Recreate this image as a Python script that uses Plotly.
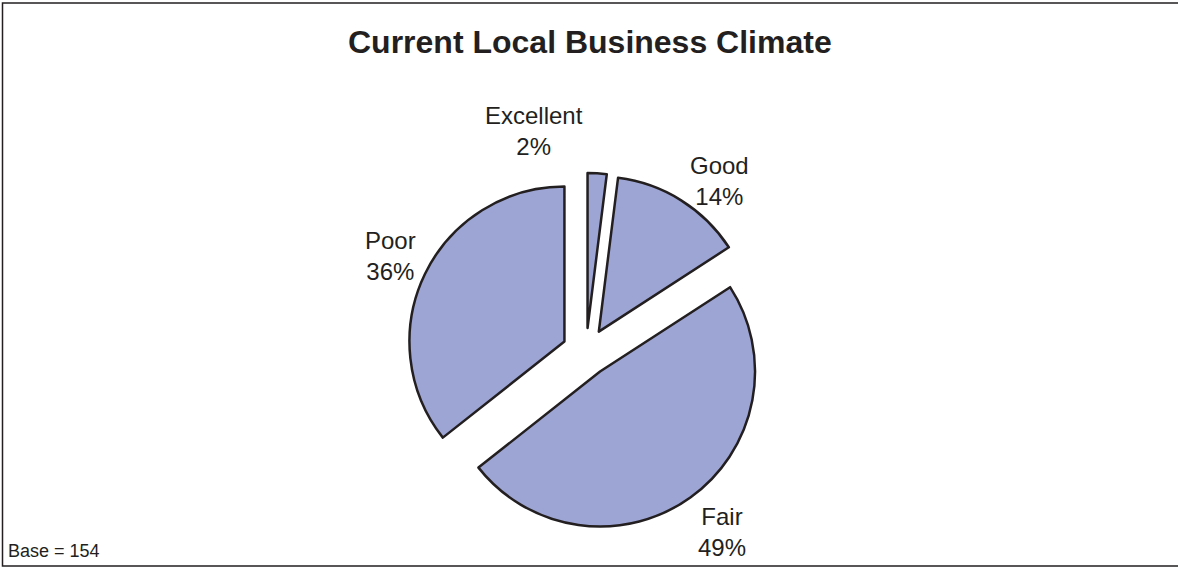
import plotly.graph_objects as go

# Survey results: current local business climate
categories = ["Excellent", "Good", "Fair", "Poor"]
percents = [2, 14, 49, 36]
base_n = 154

W, H = 1178, 567
fill_color = "#9DA5D4"
ink = "#231f20"
font_family = "Liberation Sans, Arial, Helvetica, sans-serif"

fig = go.Figure(
    go.Pie(
        labels=categories,
        values=percents,
        sort=False,
        direction="clockwise",
        rotation=0,
        pull=[0.155] * len(categories),
        marker=dict(colors=[fill_color] * len(categories),
                    line=dict(color=ink, width=2.5)),
        textinfo="none",
        hoverinfo="skip",
        showlegend=False,
        domain=dict(x=[0.30, 0.695], y=[0.0635, 0.6949]),
    )
)

# Slice labels placed outside the pie (pixel centres on the page)
label_pos = {
    "Excellent": (534, 131),
    "Good": (719, 181),
    "Fair": (722, 532),
    "Poor": (390, 256),
}
for name, pct in zip(categories, percents):
    px, py = label_pos[name]
    fig.add_annotation(
        x=px / W, y=1 - py / H, xref="paper", yref="paper",
        text=f"{name}<br>{pct}%", showarrow=False,
        xanchor="center", yanchor="middle",
        font=dict(family=font_family, size=24, color=ink),
    )

# Title
fig.add_annotation(
    x=590 / W, y=1 - 42 / H, xref="paper", yref="paper",
    text="<b>Current Local Business Climate</b>", showarrow=False,
    xanchor="center", yanchor="middle",
    font=dict(family=font_family, size=32, color=ink),
)

# Base note
fig.add_annotation(
    x=6 / W, y=1 - 551 / H, xref="paper", yref="paper",
    text=f"Base = {base_n}", showarrow=False,
    xanchor="left", yanchor="middle",
    font=dict(family=font_family, size=18, color=ink),
)

# Frame around the chart
fig.add_shape(
    type="rect", xref="paper", yref="paper",
    x0=2.5 / W, x1=1.01, y0=1 - 566 / H, y1=1 - 3 / H,
    line=dict(color=ink, width=1.5), fillcolor="rgba(0,0,0,0)",
)

fig.update_layout(
    width=W, height=H,
    margin=dict(l=0, r=0, t=0, b=0),
    paper_bgcolor="white", plot_bgcolor="white",
)

fig.write_html("out.html")
